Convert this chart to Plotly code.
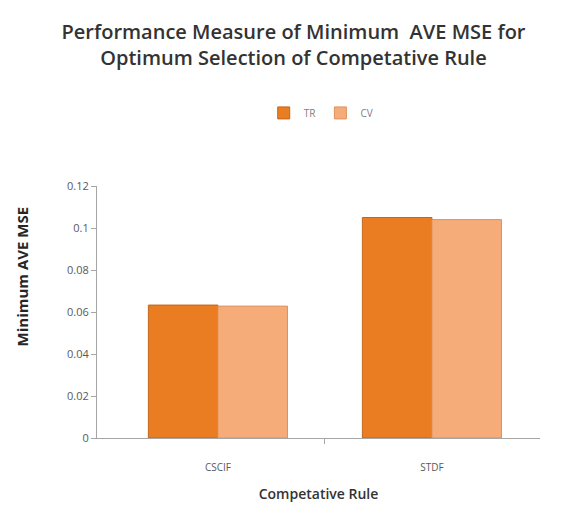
import plotly.graph_objects as go

categories = ["CSCIF", "STDF"]
tr_values = [0.0633, 0.105]
cv_values = [0.0628, 0.104]
y_ticks = [0, 0.02, 0.04, 0.06, 0.08, 0.1, 0.12]
y_tick_labels = ["0", "0.02", "0.04", "0.06", "0.08", "0.1", "0.12"]

x_pos = list(range(len(categories)))

fig = go.Figure()
fig.add_trace(go.Bar(name="TR", x=x_pos, y=tr_values,
                     marker=dict(color="#EA7D22", line=dict(color="#C4651C", width=1))))
fig.add_trace(go.Bar(name="CV", x=x_pos, y=cv_values,
                     marker=dict(color="#F6AC78", line=dict(color="#DE925F", width=1))))

fig.update_layout(
    width=587, height=514,
    paper_bgcolor="white", plot_bgcolor="white",
    barmode="group", bargap=0.35, bargroupgap=0,
    margin=dict(l=97, r=47, t=186, b=76),
    font=dict(family="Open Sans, Liberation Sans, sans-serif", color="#595959", size=11),
    title=dict(text="Performance Measure of Minimum  AVE MSE for<br>Optimum Selection of Competative Rule",
               x=0.5, xanchor="center", y=0.925, yanchor="top",
               font=dict(size=20, color="#333333", family="Open Sans, sans-serif", weight=600)),
    legend=dict(orientation="h", x=0.505, xanchor="center", y=1.29, yanchor="middle",
                font=dict(size=10, color="#7f7f7f"), itemwidth=30, traceorder="normal"),
    showlegend=True,
    annotations=[dict(text="Minimum AVE MSE", textangle=-90, xref="paper", yref="paper",
                      x=-0.17, y=0.64, xanchor="center", yanchor="middle", showarrow=False,
                      font=dict(size=15, color="#262626", weight=700))],
)
fig.update_xaxes(range=[-0.565, 1.505], showline=True, linecolor="#a6a6a6", linewidth=1,
                 tickmode="array", tickvals=x_pos, ticktext=categories, ticks="",
                 ticklabelstandoff=20, tickfont=dict(size=10, color="#595959"),
                 minor=dict(tickmode="array", tickvals=[0.5], ticks="outside", ticklen=5,
                            tickcolor="#a6a6a6", showgrid=False),
                 showgrid=False, zeroline=False,
                 title=dict(text="Competative Rule", font=dict(size=14, color="#333333", weight=600),
                            standoff=16))
fig.update_yaxes(range=[0, 0.12], tickvals=y_ticks, ticktext=y_tick_labels,
                 showline=True, linecolor="#a6a6a6", linewidth=1, ticks="outside",
                 ticklen=5, tickcolor="#a6a6a6", showgrid=False, zeroline=False,
                 tickfont=dict(size=11, color="#595959"))

fig.write_html("out.html")
